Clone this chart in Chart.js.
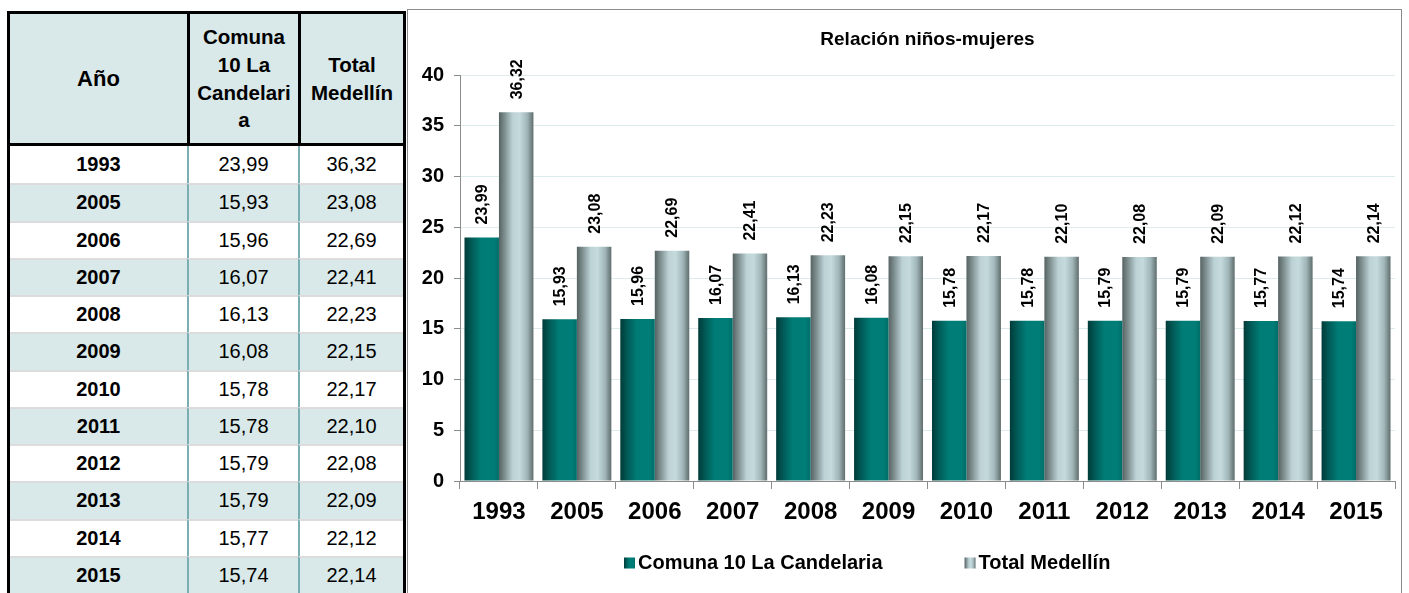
<!DOCTYPE html>
<html>
<head>
<meta charset="utf-8">
<title>Relación niños-mujeres</title>
<script src="https://cdn.jsdelivr.net/npm/chart.js@4.4.1/dist/chart.umd.min.js"></script>
<style>
  html, body { margin: 0; padding: 0; background: #fff; overflow: hidden; }
  body { width: 1409px; height: 593px; position: relative; font-family: "Liberation Sans", Arial, sans-serif; color: #000; }

  /* tabla de la izquierda */
  #tabla {
    position: absolute; left: 7px; top: 11px;
    border: 3px solid #000; border-bottom: none;
    display: grid;
    grid-template-columns: 177px 111px 105px;
    grid-template-rows: 132px;
    grid-auto-rows: 37.25px;
  }
  .c { box-sizing: border-box; display: flex; align-items: center; justify-content: center; text-align: center; font-size: 20px; }
  .h { background: #d9e8e8; border-bottom: 3px solid #000; font-weight: bold; font-size: 20.5px; line-height: 27.7px; }
  .h.sep { border-left: 3px solid #000; }
  .d { border-top: 2px solid #dcdcdc; }
  .d.first { border-top: none; }
  .d.sep { border-left: 2px solid #7aaeb3; }
  .d.alt { background: #d9e8e8; }
  .d.year { font-weight: bold; }

  /* caja del grafico */
  #caja { position: absolute; left: 407px; top: 9px; width: 993px; height: 600px; border: 1px solid #8c8c8c; }
  #wrap { position: relative; width: 993px; height: 573px; }
</style>
</head>
<body>
<div id="tabla">
  <div class="c h" style="font-size:22px">Año</div>
  <div class="c h sep">Comuna<br>10 La<br>Candelari<br>a</div>
  <div class="c h sep">Total<br>Medellín</div>
</div>
<div id="caja"><div id="wrap"><canvas id="grafico"></canvas></div></div>

<script>
// Datos
const years = ['1993', '2005', '2006', '2007', '2008', '2009', '2010', '2011', '2012', '2013', '2014', '2015'];
const candelaria = [23.99, 15.93, 15.96, 16.07, 16.13, 16.08, 15.78, 15.78, 15.79, 15.79, 15.77, 15.74];
const medellin = [36.32, 23.08, 22.69, 22.41, 22.23, 22.15, 22.17, 22.10, 22.08, 22.09, 22.12, 22.14];
const seriesNames = ['Comuna 10 La Candelaria', 'Total Medellín'];
const chartTitle = 'Relación niños-mujeres';

// Degradados de las barras (tipo cilindro de Excel)
const tealStops = [[0, '#003b39'], [0.22, '#015c58'], [0.48, '#007c76'], [0.85, '#007d77'], [1, '#006d68']];
const grayStops = [[0, '#566262'], [0.15, '#7b8b8c'], [0.4, '#bcd2d5'], [0.6, '#c4dadd'], [0.82, '#a0b5b7'], [1, '#5f6d6d']];

const fmt = v => v.toFixed(2).replace('.', ',');
const FONT = '"Liberation Sans", Arial, sans-serif';

// Filas de la tabla
const tabla = document.getElementById('tabla');
years.forEach((y, i) => {
    [y, fmt(candelaria[i]), fmt(medellin[i])].forEach((txt, j) => {
        const cell = document.createElement('div');
        cell.className = 'c d' + (i === 0 ? ' first' : '') + (j > 0 ? ' sep' : ' year') + (i % 2 === 1 ? ' alt' : '');
        cell.textContent = txt;
        tabla.appendChild(cell);
    });
});

function makeGradient(ctx, x0, x1, stops) {
    const g = ctx.createLinearGradient(x0, 0, x1, 0);
    stops.forEach(s => g.addColorStop(s[0], s[1]));
    return g;
}

// Pinta cada barra con su degradado horizontal
const barShading = {
    id: 'barShading',
    beforeDatasetDraw(chart, args) {
        const stops = args.index === 0 ? tealStops : grayStops;
        args.meta.data.forEach(bar => {
            const g = makeGradient(chart.ctx, bar.x - bar.width / 2, bar.x + bar.width / 2, stops);
            bar.options = Object.assign({}, bar.options, { backgroundColor: g });
        });
    }
};

// Etiquetas de valor verticales encima de cada barra
const valueLabels = {
    id: 'valueLabels',
    afterDatasetsDraw(chart) {
        const c = chart.ctx;
        c.save();
        c.font = 'bold 16px ' + FONT;
        c.fillStyle = '#000';
        c.textAlign = 'left';
        c.textBaseline = 'middle';
        chart.data.datasets.forEach((ds, di) => {
            chart.getDatasetMeta(di).data.forEach((bar, i) => {
                c.save();
                c.translate(bar.x + 1, bar.y - 13);
                c.rotate(-Math.PI / 2);
                c.fillText(fmt(ds.data[i]), 0, 0);
                c.restore();
            });
        });
        c.restore();
    }
};

// Leyenda abajo, con cajitas degradadas
const legendBoxes = {
    id: 'legendBoxes',
    afterDraw(chart) {
        const c = chart.ctx;
        const a = chart.chartArea;
        const y = a.bottom + 82;
        let x = a.left + 164;
        c.save();
        c.font = 'bold 20px ' + FONT;
        c.textAlign = 'left';
        c.textBaseline = 'middle';
        chart.data.datasets.forEach((ds, di) => {
            c.fillStyle = makeGradient(c, x, x + 11, di === 0 ? tealStops : grayStops);
            c.fillRect(x, y - 5.5, 11, 11);
            c.fillStyle = '#000';
            c.fillText(ds.label, x + 14, y);
            x += 14 + c.measureText(ds.label).width + 82;
        });
        c.restore();
    }
};

Chart.defaults.font.family = FONT;
Chart.defaults.color = '#000';

new Chart(document.getElementById('grafico'), {
    type: 'bar',
    data: {
        labels: years,
        datasets: [
            { label: seriesNames[0], data: candelaria, backgroundColor: () => '#007c76', borderWidth: 0, categoryPercentage: 0.885, barPercentage: 1 },
            { label: seriesNames[1], data: medellin, backgroundColor: () => '#bcd2d5', borderWidth: 0, categoryPercentage: 0.885, barPercentage: 1 }
        ]
    },
    options: {
        responsive: true,
        maintainAspectRatio: false,
        animation: false,
        events: [],
        layout: { padding: { left: 0, right: 6, top: 0, bottom: 0 } },
        plugins: {
            legend: { display: false },
            tooltip: { enabled: false },
            title: {
                display: true,
                text: chartTitle,
                fullSize: false,
                color: '#000',
                font: { size: 19, weight: 'bold', lineHeight: 1.2 },
                padding: { top: 18.6, bottom: 23.6 }
            }
        },
        scales: {
            x: {
                grid: { offset: true, drawOnChartArea: false, tickLength: 8, tickColor: '#8c8c8c' },
                border: { color: '#8c8c8c', width: 1 },
                ticks: { color: '#000', font: { size: 24, weight: 'bold' }, padding: 8.6, autoSkip: false, maxRotation: 0 },
                afterFit: s => { s.height = 102; }
            },
            y: {
                min: 0,
                max: 40,
                ticks: { stepSize: 5, color: '#000', font: { size: 20, weight: 'bold' }, padding: 10 },
                grid: {
                    color: c => (c.tick && c.tick.value === 0 ? 'rgba(0,0,0,0)' : '#dcebeb'),
                    tickColor: '#8c8c8c',
                    tickLength: 6
                },
                border: { color: '#8c8c8c', width: 1 },
                afterFit: s => { s.width = 52; }
            }
        }
    },
    plugins: [barShading, valueLabels, legendBoxes]
});
</script>
</body>
</html>
